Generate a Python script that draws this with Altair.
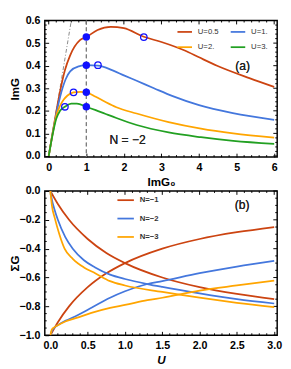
import altair as alt
import pandas as pd

FONT = "Liberation Sans"

# ---------------- panel (a): Im G vs Im G0, N = -2 ----------------
u_labels = ["U=0.5", "U=1.", "U=2.", "U=3."]
a_colors = ["#CC4411", "#4477DD", "#FFA500", "#22A022"]

g0_u05 = [0, 0.1, 0.2, 0.3, 0.43, 0.57, 0.83, 1.0, 1.3, 1.65, 2.0, 2.53, 3.0, 3.62, 4.0, 4.48, 5.34, 6.0]
g_u05 = [0, 0.1, 0.195, 0.285, 0.38, 0.446, 0.513, 0.527, 0.558, 0.572, 0.566, 0.528, 0.505, 0.467, 0.437, 0.40, 0.345, 0.306]

g0_u1 = [0, 0.1, 0.2, 0.3, 0.45, 0.57, 0.8, 1.0, 1.31, 1.7, 2.0, 2.34, 2.8, 3.3, 4.0, 4.9, 6.0]
g_u1 = [0, 0.097, 0.185, 0.26, 0.34, 0.375, 0.397, 0.402, 0.40, 0.379, 0.357, 0.333, 0.30, 0.265, 0.225, 0.19, 0.16]

g0_u2 = [0, 0.1, 0.2, 0.3, 0.4, 0.5, 0.66, 0.85, 1.0, 1.25, 1.5, 1.8, 2.34, 3.19, 4.05, 4.91, 6.0]
g_u2 = [0, 0.095, 0.178, 0.222, 0.25, 0.268, 0.282, 0.284, 0.282, 0.262, 0.24, 0.216, 0.188, 0.15, 0.121, 0.10, 0.081]

g0_u3 = [0, 0.1, 0.2, 0.3, 0.43, 0.6, 0.75, 1.0, 1.25, 1.5, 1.8, 2.34, 3.19, 4.05, 4.91, 6.0]
g_u3 = [0, 0.092, 0.165, 0.2, 0.218, 0.232, 0.232, 0.218, 0.203, 0.187, 0.168, 0.137, 0.104, 0.083, 0.067, 0.054]

dot_x = [1, 1, 1, 1]
dot_y = [0.527, 0.402, 0.282, 0.218]
ring_x = [2.53, 1.31, 0.66, 0.43]
ring_y = [0.527, 0.402, 0.282, 0.218]
guide_x = [0, 0.6]
guide_y = [0, 0.6]

a_xticks = [0, 1, 2, 3, 4, 5, 6]
a_yticks = [0, 0.1, 0.2, 0.3, 0.4, 0.5, 0.6]

# ---------------- panel (b): Sigma G vs U ----------------
n_labels = ["N=\u22121", "N=\u22122", "N=\u22123"]
b_colors = ["#CC4411", "#4477DD", "#FFA500"]

u_n1 = [0, 0.1, 0.25, 0.5, 0.75, 1.0, 1.5, 2.0, 2.5, 3.0]
dec_n1 = [0, -0.09, -0.2, -0.333, -0.43, -0.5, -0.6, -0.667, -0.714, -0.75]
inc_n1 = [-1, -0.91, -0.8, -0.667, -0.571, -0.5, -0.4, -0.333, -0.286, -0.25]

u_n2_dec = [0, 0.02, 0.05, 0.1, 0.2, 0.3, 0.45, 0.6, 0.8, 1.0, 1.3, 1.5, 2.0, 2.5, 3.0]
dec_n2 = [0, -0.06, -0.12, -0.2, -0.32, -0.4, -0.48, -0.53, -0.58, -0.61, -0.645, -0.665, -0.71, -0.75, -0.78]
u_n2_inc = [0, 0.02, 0.05, 0.1, 0.2, 0.35, 0.55, 0.8, 1.0, 1.3, 1.5, 2.0, 2.5, 3.0]
inc_n2 = [-1, -0.97, -0.95, -0.93, -0.9, -0.865, -0.81, -0.74, -0.695, -0.645, -0.625, -0.57, -0.525, -0.485]

u_n3_dec = [0, 0.02, 0.06, 0.12, 0.19, 0.3, 0.45, 0.6, 0.8, 1.0, 1.5, 2.0, 2.5, 3.0]
dec_n3 = [0, -0.1, -0.19, -0.3, -0.4, -0.47, -0.53, -0.57, -0.625, -0.655, -0.70, -0.74, -0.775, -0.805]
u_n3_inc = [0, 0.02, 0.05, 0.1, 0.2, 0.35, 0.55, 0.8, 1.0, 1.3, 1.5, 2.0, 2.5, 3.0]
inc_n3 = [-1, -0.96, -0.945, -0.93, -0.905, -0.88, -0.845, -0.81, -0.79, -0.757, -0.74, -0.69, -0.655, -0.622]

b_xticks = [0, 0.5, 1.0, 1.5, 2.0, 2.5, 3.0]
b_yticks = [-1.0, -0.8, -0.6, -0.4, -0.2, 0.0]

# ---------------- tables ----------------
rows = []
for lab, xs, ys in zip(u_labels, [g0_u05, g0_u1, g0_u2, g0_u3], [g_u05, g_u1, g_u2, g_u3]):
    for a, b in zip(xs, ys):
        rows.append({"g0": a, "g": b, "U": lab})
dfa = pd.DataFrame(rows)
dots = pd.DataFrame({"g0": dot_x, "g": dot_y})
rings = pd.DataFrame({"g0": ring_x, "g": ring_y})
guide = pd.DataFrame({"g0": guide_x, "g": guide_y})

rows = []
series = [
    (n_labels[0], "a", u_n1, dec_n1), (n_labels[0], "b", u_n1, inc_n1),
    (n_labels[1], "a", u_n2_dec, dec_n2), (n_labels[1], "b", u_n2_inc, inc_n2),
    (n_labels[2], "a", u_n3_dec, dec_n3), (n_labels[2], "b", u_n3_inc, inc_n3),
]
for lab, br, xs, ys in series:
    for a, b in zip(xs, ys):
        rows.append({"u": a, "sg": b, "N": lab, "s": lab + br})
dfb = pd.DataFrame(rows)


def minor(lo, hi, step, every):
    n = int(round((hi - lo) / step))
    return [round(lo + i * step, 4) for i in range(n + 1) if i % every != 0]


def dat(v, sc):
    return alt.datum(v, scale=sc, type="quantitative", axis=None)


def main_axis_layer(df, xf, yf, xsc, ysc, xmaj, ymaj, xtitle, ytitle, xfmt, yfmt, h,
                    xtitle_style="normal"):
    common = dict(tickSize=alt.ExprRef(expr="-4"), ticks=True, domain=False, grid=False,
                  tickColor="black", tickWidth=1, labelFont=FONT, labelFontSize=11,
                  labelFontWeight="bold", labelColor="black", labelPadding=9,
                  titleFont=FONT, titleFontSize=12, titleFontWeight="bold",
                  titleColor="black", titleBaseline="middle", titleAlign="center")
    return alt.Chart(df).mark_point(opacity=0).encode(
        x=alt.X(xf, type="quantitative", scale=xsc,
                axis=alt.Axis(orient="bottom", values=xmaj, format=xfmt, title=xtitle,
                              titleY=25, titleFontStyle=xtitle_style, **common)),
        y=alt.Y(yf, type="quantitative", scale=ysc,
                axis=alt.Axis(orient="left", values=ymaj, format=yfmt, title=ytitle,
                              titleX=-31, titleY=h / 2, titleAngle=270, **common)))


def tick_layers(xf, yf, xsc, ysc, xmaj, xmin, ymaj, ymin, w, h):
    def xt(vals, y0, y1):
        return alt.Chart(pd.DataFrame({xf: vals})).mark_rule(color="black", strokeWidth=1).encode(
            x=alt.X(xf, type="quantitative", scale=xsc, axis=None),
            y=alt.value(y0), y2=alt.value(y1))

    def yt(vals, x0, x1):
        return alt.Chart(pd.DataFrame({yf: vals})).mark_rule(color="black", strokeWidth=1).encode(
            y=alt.Y(yf, type="quantitative", scale=ysc, axis=None),
            x=alt.value(x0), x2=alt.value(x1))

    return [xt(xmaj, 0, 4), xt(xmin, 0, 2), xt(xmin, h, h - 2),
            yt(ymaj, w, w - 4), yt(ymin, w, w - 2), yt(ymin, 0, 2)]


# ---------------- panel (a) chart ----------------
HA, WA = 141, 240
xsa = alt.Scale(domain=[-0.105, 6.08], nice=False, zero=False)
ysa = alt.Scale(domain=[-0.005, 0.6], nice=False, zero=False)
XA = lambda: alt.X("g0:Q", scale=xsa, axis=None)
YA = lambda: alt.Y("g:Q", scale=ysa, axis=None)

a_axis = main_axis_layer(dfa, "g0", "g", xsa, ysa, a_xticks, a_yticks, "ImG\u2080", "ImG",
                         "d", ".1f", HA)
a_ticks = tick_layers("g0", "g", xsa, ysa, a_xticks, minor(0, 6, 0.2, 5), a_yticks,
                      minor(0, 0.6, 0.02, 5), WA, HA)

# legend is filled column by column: order entries so that columns read (0.5, 2.) and (1., 3.)
leg_order = [0, 2, 1, 3]
a_guide = alt.Chart(guide).mark_line(color="#888888", strokeWidth=1, strokeDash=[4, 2, 1, 2],
                                     clip=True).encode(x=XA(), y=YA())
a_vline = alt.Chart(guide).mark_rule(color="#777777", strokeWidth=1, strokeDash=[4, 3]).encode(
    x=dat(1, xsa))
a_lines = alt.Chart(dfa).mark_line(strokeWidth=1.8, interpolate="monotone", clip=True).encode(
    x=XA(), y=YA(),
    color=alt.Color("U:N", scale=alt.Scale(domain=[u_labels[i] for i in leg_order],
                                           range=[a_colors[i] for i in leg_order]),
                    legend=alt.Legend(orient="none", legendX=136, legendY=3, columns=2,
                                      symbolType="stroke", symbolSize=225, symbolStrokeWidth=1.8,
                                      labelFont=FONT, labelFontSize=8, labelColor="#333333",
                                      title=None, columnPadding=8, rowPadding=3, padding=0,
                                      labelOffset=5)))
a_dots = alt.Chart(dots).mark_point(filled=True, size=60, color="#1010FF", opacity=1).encode(
    x=XA(), y=YA())
a_rings = alt.Chart(rings).mark_point(filled=False, size=45, color="#1010FF", strokeWidth=1.3,
                                      opacity=1).encode(x=XA(), y=YA())
a_note = alt.Chart(guide).mark_text(text="N = \u22122", font=FONT, fontSize=12.5,
                                    color="#222222").encode(x=dat(2.1, xsa), y=dat(0.07, ysa))
a_tag = alt.Chart(guide).mark_text(text="(a)", font=FONT, fontSize=12.5, color="#222222").encode(
    x=dat(5.16, xsa), y=dat(0.4, ysa))

top = alt.layer(a_axis, *a_ticks, a_guide, a_vline, a_lines, a_dots, a_rings, a_note,
                a_tag).resolve_axis(x="independent", y="independent").properties(
    width=WA, height=HA)

# ---------------- panel (b) chart ----------------
HB, WB = 149, 240
xsb = alt.Scale(domain=[-0.075, 3.04], nice=False, zero=False)
ysb = alt.Scale(domain=[-1.0, 0.0], nice=False, zero=False)

b_axis = main_axis_layer(dfb, "u", "sg", xsb, ysb, b_xticks, b_yticks, "U", "\u03a3G",
                         ".1f", ".1f", HB, xtitle_style="italic")
b_ticks = tick_layers("u", "sg", xsb, ysb, b_xticks, minor(0, 3, 0.1, 5), b_yticks,
                      minor(-1, 0, 0.05, 4), WB, HB)

b_lines = alt.Chart(dfb).mark_line(strokeWidth=1.8, interpolate="monotone", clip=True).encode(
    x=alt.X("u:Q", scale=xsb, axis=None), y=alt.Y("sg:Q", scale=ysb, axis=None),
    detail="s:N",
    color=alt.Color("N:N", scale=alt.Scale(domain=n_labels, range=b_colors),
                    legend=alt.Legend(orient="none", legendX=74, legendY=0, columns=1,
                                      symbolType="stroke", symbolSize=289, symbolStrokeWidth=1.8,
                                      labelFont=FONT, labelFontSize=8, labelFontWeight="bold",
                                      labelColor="#333333", title=None, rowPadding=5, padding=0,
                                      labelOffset=5)))
b_tag = alt.Chart(guide).mark_text(text="(b)", font=FONT, fontSize=12.5, color="#222222").encode(
    x=dat(2.57, xsb), y=dat(-0.1, ysb))

bottom = alt.layer(b_axis, *b_ticks, b_lines, b_tag).resolve_axis(
    x="independent", y="independent").properties(width=WB, height=HB)

chart = alt.vconcat(top, bottom, spacing=35, bounds="flush").resolve_scale(
    color="independent").properties(padding=0).configure_view(stroke="black", strokeWidth=1.5)

chart.save("out.html", embed_options={"renderer": "svg", "actions": False})
